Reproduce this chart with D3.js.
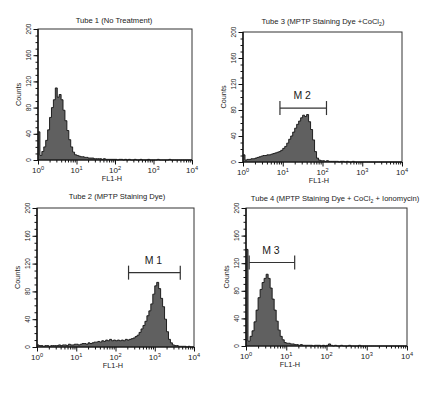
<!DOCTYPE html>
<html><head><meta charset="utf-8">
<script src="https://cdn.jsdelivr.net/npm/d3@7"></script>
<style>
body{margin:0;background:#fff}
svg{display:block}
text{font-family:"Liberation Sans",Arial,sans-serif;fill:#1a1a1a}
</style>
</head><body>
<svg id="c" width="438" height="399"></svg>
<script>
// ---- data ----
const titles = [
  "Tube 1 (No Treatment)",
  "Tube 3 (MPTP Staining Dye +CoCl{2})",
  "Tube 2 (MPTP Staining Dye)",
  "Tube 4 (MPTP Staining Dye + CoCl{2} + Ionomycin)"
];
const binWidthDecades = 0.05; // histogram channel width in log10 units, starting at 10^0
const tube1 = [43,7,13,20,30,46,65,80,92,110,
  96,100,92,76,60,45,31,20,12,8,
  7,6,5,5,4,4,3,3,3,2,
  2,2,2,1,2,1,1,1,1,1,
  1,0,1,1,0,1,0,1,0,0,
  1,0,0,1,0,0,0,1,0,0,
  0,0,1,0,0,0,0,0,1,0,
  0,0,0,0,0,0,0,0,0,0];
const tube3 = [11,3,4,4,5,5,6,7,8,9,
  10,10,11,11,12,13,14,15,16,18,
  21,24,29,35,40,46,52,58,63,68,
  72,70,73,62,50,34,16,6,3,2,
  2,1,2,1,1,1,1,1,0,1,
  1,0,1,0,0,1,0,0,0,0,
  0,0,0,0,0,0,0,0,0,0,
  0,0,0,0,0,0,0,0,0,0];
const tube2 = [3,2,2,1,2,2,1,2,2,2,
  2,3,2,3,3,2,4,3,3,4,
  4,3,4,5,5,4,6,5,6,7,
  7,8,7,9,8,10,9,11,9,10,
  9,10,9,10,9,11,10,11,12,13,
  15,17,21,26,31,37,45,52,62,76,
  88,93,84,70,58,40,22,11,6,3,
  2,2,1,1,1,1,0,1,0,0];
const tube4 = [140,7,14,22,35,52,70,82,92,98,
  104,98,84,68,52,36,23,14,9,5,
  4,4,3,3,2,2,1,2,1,1,
  1,1,1,0,1,1,1,0,1,0,
  1,3,1,0,1,0,0,1,0,0,
  0,1,0,0,0,0,1,0,0,0,
  0,0,0,0,0,0,0,0,0,0,
  0,0,0,0,0,0,0,0,0,0];
const series = [tube1, tube3, tube2, tube4];
const yTickValues = [0,40,80,120,160,200];
const yMinorValues = [0,10,20,30,40,50,60,70,80,90,100,110,120,130,140,150,160,170,180,190,200];
const xTickExponents = [0,1,2,3,4];
const markerLabels = [null, "M 2", "M 1", "M 3"];
const markerFrom  = [null, 8.5, 215, 1.2];
const markerTo    = [null, 126, 4470, 16.2];
const markerLevel = [null, 83, 107, 121];
const xAxisTitle = "FL1-H";
const yAxisTitle = "Counts";

// ---- layout (pixel geometry per panel) ----
const layout = [
  {x0:38,  x1:192, y0:29,  y1:160, tx:114, ty:22.7, lx:112},
  {x0:243, x1:402, y0:32,  y1:162, tx:323, ty:24.4, lx:319},
  {x0:37,  x1:194, y0:208, y1:347, tx:117, ty:199.4, lx:113},
  {x0:246, x1:407, y0:208, y1:346, tx:335, ty:201, lx:290}
];

const svg = d3.select("#c");

layout.forEach((L, k) => {
  const g = svg.append("g");
  const x = d3.scaleLog().domain([1, 1e4]).range([L.x0, L.x1]);
  const y = d3.scaleLinear().domain([0, 200]).range([L.y1, L.y0]);
  const counts = series[k];
  const pts = counts.map((c, i) => [Math.pow(10, i * binWidthDecades), c]);
  pts.push([1e4, counts[counts.length - 1]]);

  const area = d3.area().curve(d3.curveStepAfter)
    .x(d => x(d[0])).y0(y(0)).y1(d => y(d[1]));
  const line = d3.line().curve(d3.curveStepAfter)
    .x(d => x(d[0])).y(d => y(d[1]));

  g.append("path").attr("d", area(pts)).attr("fill", "#606060");
  g.append("path").attr("d", line(pts)).attr("fill", "none")
    .attr("stroke", "#111").attr("stroke-width", 0.9);

  // frame
  g.append("rect").attr("x", L.x0).attr("y", L.y0)
    .attr("width", L.x1 - L.x0).attr("height", L.y1 - L.y0)
    .attr("fill", "none").attr("stroke", "#333").attr("stroke-width", 1);
  g.append("line").attr("x1", L.x0).attr("x2", L.x0).attr("y1", L.y0).attr("y2", L.y1)
    .attr("stroke", "#111").attr("stroke-width", 1.4);
  g.append("line").attr("x1", L.x0).attr("x2", L.x1).attr("y1", L.y1).attr("y2", L.y1)
    .attr("stroke", "#111").attr("stroke-width", 1.2);

  // y axis ticks
  const yMinor = g.append("g").attr("transform", `translate(${L.x0},0)`)
    .call(d3.axisLeft(y).tickValues(yMinorValues).tickSize(2.5).tickFormat(""));
  const yMajor = g.append("g").attr("transform", `translate(${L.x0},0)`)
    .call(d3.axisLeft(y).tickValues(yTickValues).tickSize(4.5).tickFormat(""));
  [yMinor, yMajor].forEach(a => { a.select(".domain").remove(); a.attr("color", "#111"); });

  yTickValues.forEach(t => {
    g.append("text")
      .attr("transform", `translate(${L.x0 - 9.5},${y(t)}) rotate(-90)`)
      .attr("text-anchor", "middle").attr("dy", "0.35em")
      .attr("font-size", 6.5).text(t);
  });
  g.append("text")
    .attr("transform", `translate(${L.x0 - 20},${(L.y0 + L.y1) / 2}) rotate(-90)`)
    .attr("text-anchor", "middle").attr("dy", "0.35em")
    .attr("font-size", 7.3).text(yAxisTitle);

  // x axis ticks
  const minorX = [];
  for (let e = 0; e < 4; e++) for (let m = 2; m <= 9; m++) minorX.push(m * Math.pow(10, e));
  const xMinor = g.append("g").attr("transform", `translate(0,${L.y1})`)
    .call(d3.axisBottom(x).tickValues(minorX).tickSize(2.5).tickFormat(""));
  const xMajor = g.append("g").attr("transform", `translate(0,${L.y1})`)
    .call(d3.axisBottom(x).tickValues(xTickExponents.map(e => Math.pow(10, e))).tickSize(4.5).tickFormat(""));
  [xMinor, xMajor].forEach(a => { a.select(".domain").remove(); a.attr("color", "#111"); });

  xTickExponents.forEach(e => {
    const t = g.append("text").attr("x", x(Math.pow(10, e))).attr("y", L.y1 + 13)
      .attr("text-anchor", "middle").attr("font-size", 8);
    t.append("tspan").text("10");
    t.append("tspan").attr("dy", -3.2).attr("font-size", 5.6).text(e);
  });
  g.append("text").attr("x", L.lx).attr("y", L.y1 + 21)
    .attr("text-anchor", "middle").attr("font-size", 7.3).text(xAxisTitle);

  // title (with subscripts marked by {})
  const title = g.append("text").attr("x", L.tx).attr("y", L.ty)
    .attr("text-anchor", "middle").attr("font-size", 7.6);
  let pending = 0;
  titles[k].split(/(\{[^}]*\})/).filter(s => s.length).forEach(s => {
    if (s.startsWith("{")) {
      title.append("tspan").attr("dy", 1.8 + pending).attr("font-size", 5.2).text(s.slice(1, -1));
      pending = -1.8;
    } else {
      title.append("tspan").attr("dy", pending).text(s);
      pending = 0;
    }
  });

  // marker
  if (markerLabels[k]) {
    const xa = x(markerFrom[k]), xb = x(markerTo[k]), yy = y(markerLevel[k]);
    const mg = g.append("g").attr("stroke", "#333").attr("stroke-width", 1.2);
    mg.append("line").attr("x1", xa).attr("x2", xb).attr("y1", yy).attr("y2", yy);
    mg.append("line").attr("x1", xa).attr("x2", xa).attr("y1", yy - 7).attr("y2", yy + 7);
    mg.append("line").attr("x1", xb).attr("x2", xb).attr("y1", yy - 7).attr("y2", yy + 7);
    g.append("text").attr("x", (xa + xb) / 2 - 1).attr("y", yy - 9)
      .attr("text-anchor", "middle").attr("font-size", 10.5).text(markerLabels[k]);
  }
});
</script>
</body></html>
